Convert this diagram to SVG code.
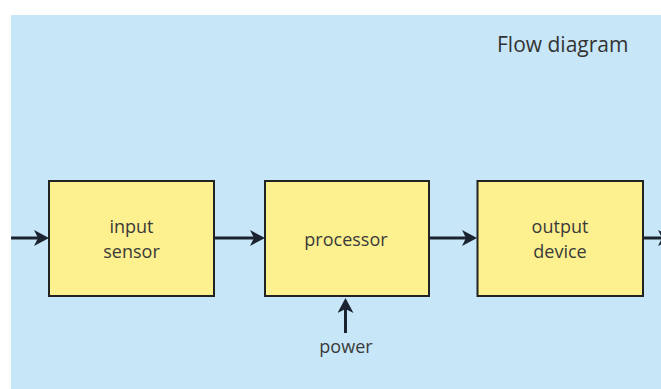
<svg xmlns="http://www.w3.org/2000/svg" width="661" height="389" viewBox="0 0 661 389">
  <style>
    .box { fill: #fdf08f; stroke: #222; stroke-width: 2; }
    .lbl { font-family: "Open Sans", "Noto Sans", sans-serif; font-size: 18px; fill: #3a3a3a; text-anchor: middle; }
    .title { font-family: "Open Sans", "Noto Sans", sans-serif; font-size: 21px; fill: #333; }
    .conn { stroke: #1b2230; stroke-width: 3; fill: none; marker-end: url(#ah); }
  </style>
  <defs>
    <marker id="ah" markerUnits="userSpaceOnUse" viewBox="0 0 15 16" refX="7" refY="8" markerWidth="15" markerHeight="16" orient="auto">
      <path d="M0,0 L15,8 L0,16 L4,8 z" fill="#1b2230"/>
    </marker>
  </defs>
  <rect x="0" y="0" width="661" height="389" fill="#ffffff"/>
  <rect x="11" y="15" width="650" height="374" fill="#c7e6f8"/>
  <text class="title" x="497" y="52">Flow diagram</text>

  <g id="connectors">
    <line class="conn" x1="11" y1="238" x2="41" y2="238"/>
    <line class="conn" x1="214" y1="238" x2="257" y2="238"/>
    <line class="conn" x1="429" y1="238" x2="469" y2="238"/>
    <line class="conn" x1="643" y1="238" x2="665" y2="238"/>
    <line class="conn" x1="345.5" y1="333" x2="345.5" y2="306"/>
  </g>

  <g id="input-sensor">
    <rect class="box" x="49" y="181" width="165" height="115"/>
    <text class="lbl" x="131.5" y="233">input</text>
    <text class="lbl" x="131.5" y="258">sensor</text>
  </g>
  <g id="processor">
    <rect class="box" x="265" y="181" width="164" height="115"/>
    <text class="lbl" x="346" y="246">processor</text>
  </g>
  <g id="output-device">
    <rect class="box" x="477.5" y="181" width="165.5" height="115"/>
    <text class="lbl" x="560" y="233">output</text>
    <text class="lbl" x="560" y="258">device</text>
  </g>
  <g id="power">
    <text class="lbl" x="346" y="353">power</text>
  </g>
</svg>
